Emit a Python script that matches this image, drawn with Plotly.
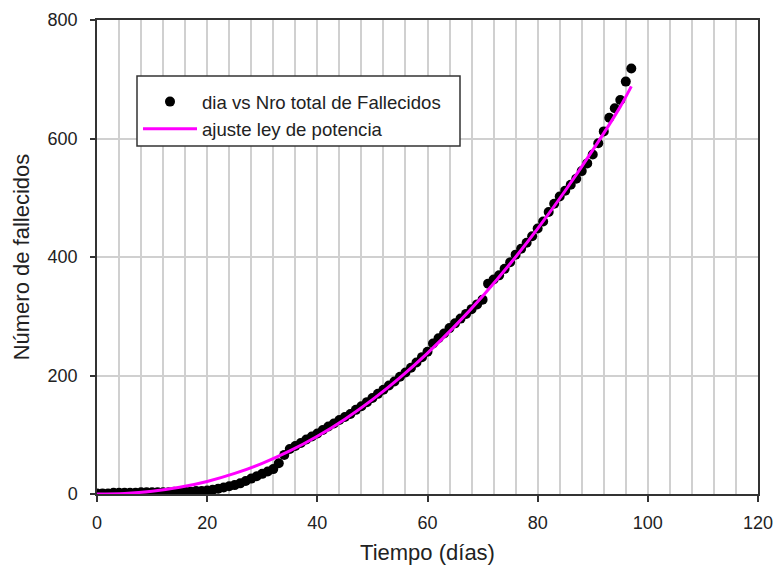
import plotly.graph_objects as go

# Observed data: day vs cumulative deaths
dias = list(range(0, 98))
fallecidos = [1, 1, 1, 2, 2, 2, 2, 2, 3, 3,
              3, 3, 3, 3, 4, 4, 4, 4, 5, 5,
              6, 7, 9, 11, 13, 15, 18, 22, 26, 30,
              34, 38, 42, 52, 66, 76, 81, 86, 92, 97,
              102, 108, 114, 119, 125, 130, 135, 142, 148, 155,
              162, 169, 176, 183, 190, 198, 205, 213, 222, 231,
              240, 254, 263, 271, 280, 288, 296, 304, 312, 320,
              328, 355, 362, 369, 380, 391, 404, 414, 424, 435,
              448, 460, 476, 490, 502, 512, 522, 532, 545, 558,
              573, 592, 612, 635, 651, 665, 696, 718]

# Power-law fit line
dias_ajuste = [0, 5, 10, 15, 20, 25, 30, 35, 40, 45, 50, 55, 60, 65, 70, 75, 80, 85, 90, 95, 97]
ajuste = [0, 1, 4.6, 11.3, 21.2, 34.7, 51.8, 72.7, 97.4, 126.3, 159.2, 196.4, 237.8,
          283.7, 333.9, 388.6, 447.9, 511.8, 580.3, 653.8, 688]

x_ticks = [0, 20, 40, 60, 80, 100, 120]
y_ticks = [0, 200, 400, 600, 800]

FONT = "Liberation Sans, Arial, sans-serif"
TXT = "#222222"

fig = go.Figure()
fig.add_trace(go.Scatter(
    x=dias, y=fallecidos, mode="markers",
    name="dia vs Nro total de Fallecidos",
    marker=dict(color="black", size=10, symbol="circle"),
))
fig.add_trace(go.Scatter(
    x=dias_ajuste, y=ajuste, mode="lines",
    name="ajuste ley de potencia",
    line=dict(color="#FF00FF", width=3, shape="spline"),
))

# legend box
fig.add_shape(type="rect", xref="paper", yref="paper",
              x0=(137 - 97) / 661, x1=(460 - 97) / 661,
              y0=(494 - 146) / 474, y1=(494 - 76) / 474,
              line=dict(color="#333333", width=1.5), fillcolor="white", layer="above")

fig.update_layout(
    width=777, height=570,
    margin=dict(l=97, r=19, t=20, b=76, autoexpand=False),
    paper_bgcolor="white", plot_bgcolor="white",
    font=dict(family=FONT, color=TXT, size=18),
    showlegend=True,
    legend=dict(
        x=(138 - 97) / 661, xanchor="left",
        y=(494 - 83) / 474, yanchor="top",
        bgcolor="rgba(0,0,0,0)", borderwidth=0,
        font=dict(family=FONT, size=18.6, color=TXT),
        itemwidth=54,
    ),
    xaxis=dict(
        range=[0, 120], tickvals=x_ticks, ticktext=[str(v) for v in x_ticks],
        automargin=False,
        showgrid=True, gridcolor="#d0d0d0", gridwidth=1.5,
        minor=dict(dtick=4, tick0=0, showgrid=True, gridcolor="#d0d0d0", gridwidth=1.5, ticks=""),
        showline=True, linecolor="#333333", linewidth=1.5, mirror=True,
        ticks="outside", ticklen=6, tickcolor="#333333", tickwidth=1.5,
        ticklabelstandoff=6,
        zeroline=False,
        title=dict(text="Tiempo (días)", font=dict(size=22, family=FONT, color=TXT), standoff=12),
    ),
    yaxis=dict(
        range=[0, 800], tickvals=y_ticks, ticktext=[str(v) for v in y_ticks],
        automargin=False,
        showgrid=True, gridcolor="#d0d0d0", gridwidth=1.5,
        showline=True, linecolor="#333333", linewidth=1.5, mirror=True,
        ticks="outside", ticklen=5, tickcolor="#333333", tickwidth=1.5,
        ticklabelstandoff=9,
        zeroline=False,
        title=dict(text="Número de fallecidos", font=dict(size=22, family=FONT, color=TXT), standoff=12),
    ),
)

fig.write_html("out.html")
